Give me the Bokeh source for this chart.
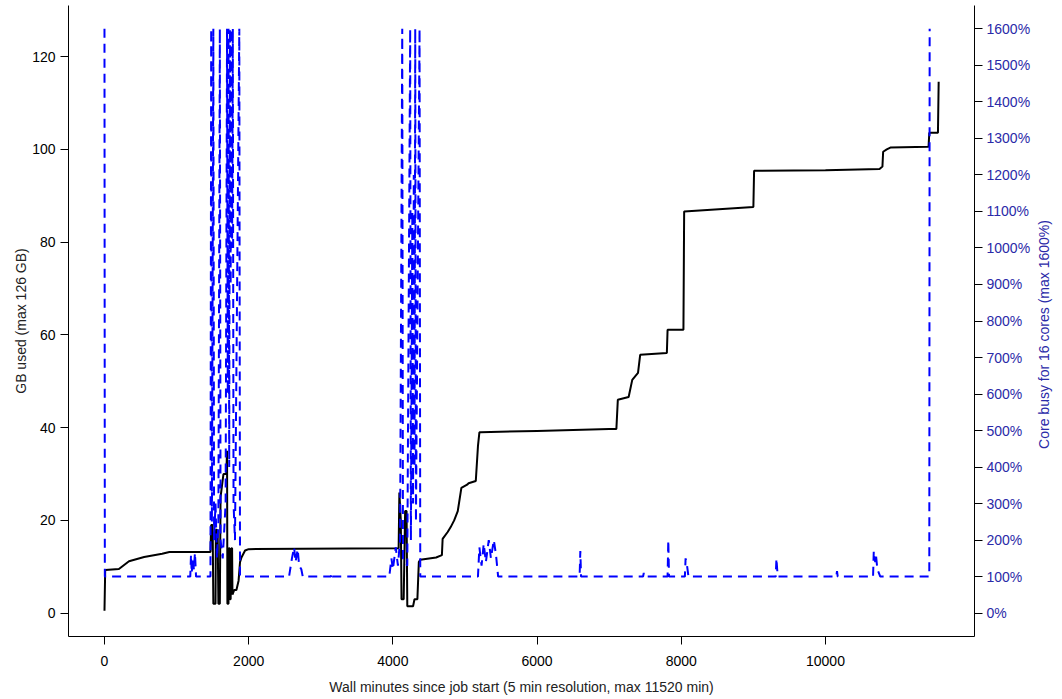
import math
from bokeh.plotting import figure
from bokeh.models import Range1d, LinearAxis, FixedTicker, CustomJSTickFormatter, Label
from bokeh.embed import file_html
from bokeh.resources import INLINE

# ---- data: memory used (GB) vs wall minutes ----
mem_min = [0, 10, 200, 340, 550, 800, 900, 1470, 1480, 1500, 1510, 1540, 1545, 1560, 1570,
           1580, 1600, 1610, 1650, 1690, 1700, 1705, 1720, 1725, 1735, 1740, 1750, 1760,
           1770, 1775, 1800, 1830, 1860, 1880, 1900, 1950, 2000, 4080, 4090, 4110, 4120,
           4150, 4170, 4190, 4200, 4210, 4280, 4300, 4340, 4360, 4380, 4600, 4680, 4690,
           4760, 4800, 4850, 4900, 4950, 5030, 5050, 5150, 5180, 5200, 5220, 6000, 7000,
           7100, 7120, 7270, 7320, 7400, 7430, 7800, 7810, 8030, 8040, 9000, 9010, 10000,
           10750, 10790, 10800, 10850, 10900, 11430, 11440, 11560, 11570]
mem_gb = [0.5, 9.3, 9.5, 11.2, 12.1, 12.8, 13.2, 13.2, 19, 19, 2, 2, 18, 18, 17,
          2, 2, 25, 30, 30, 35, 2, 2, 14, 14, 3, 3, 14,
          14, 4, 5, 5, 7, 11, 12, 13.5, 13.8, 14, 26, 20, 3,
          3, 22, 22, 1.5, 1.5, 1.5, 3, 3, 11, 11.5, 12, 12.5, 16,
          17.5, 18.5, 20, 22, 27, 27.7, 28, 28.5, 36, 39, 39, 39.3, 39.7,
          39.7, 46, 46.6, 50.3, 51.8, 55.7, 56.1, 61.1, 61.1, 86.6, 87.6, 95.4, 95.5,
          95.8, 96.3, 99.5, 100, 100.4, 100.6, 103.6, 103.6, 114.6]

# ---- data: CPU busy (%) vs wall minutes ----
cpu_min = [0, 5, 1190, 1200, 1210, 1225, 1240, 1255, 1270, 1470, 1480, 1490, 1510, 1520,
           1540, 1560, 1580, 1600, 1610, 1640, 1680, 1700, 1710, 1720, 1730, 1740, 1750,
           1760, 1770, 1780, 1790, 1810, 1870, 1880, 2560, 2600, 2630, 2650, 2680, 2700,
           2730, 2750, 3140, 3150, 3160, 3950, 3980, 4000, 4040, 4070, 4100, 4130, 4140,
           4200, 4240, 4250, 4270, 4280, 4290, 4300, 4310, 4320, 4370, 4380, 5180, 5200,
           5230, 5260, 5290, 5330, 5360, 5400, 5430, 5460, 6590, 6600, 6610, 7470, 7480,
           7490, 7810, 7820, 7830, 8050, 8060, 8080, 8100, 9310, 9320, 9330, 9340, 10150,
           10160, 10170, 10660, 10670, 10690, 10700, 10720, 10740, 10760, 11440, 11445]
cpu_pct = [1600, 100, 100, 160, 110, 150, 120, 165, 100, 100, 1600, 250, 1600, 200,
           300, 150, 250, 1600, 200, 150, 300, 1600, 600, 1600, 400, 1600, 900,
           1600, 1000, 1600, 300, 200, 1600, 100, 100, 150, 180, 140, 175, 130,
           120, 100, 100, 110, 100, 100, 150, 120, 180, 130, 200, 1600, 150,
           130, 1600, 200, 1100, 300, 1200, 400, 1600, 250, 1600, 100, 100, 180,
           130, 190, 140, 200, 150, 200, 160, 100, 100, 170, 100, 100, 110,
           100, 100, 200, 100, 100, 150, 130, 100, 100, 150, 120, 100, 100,
           115, 100, 100, 170, 140, 160, 120, 110, 100, 100, 1600]

x_ticks = [0, 2000, 4000, 6000, 8000, 10000]
gb_ticks = [0, 20, 40, 60, 80, 100, 120]
cpu_ticks = list(range(0, 1700, 100))

FONT = "Liberation Sans"
BLUE_TXT = "#2a2aa8"

p = figure(frame_width=906, frame_height=631, output_backend="svg", toolbar_location=None,
           x_range=Range1d(-499, 12067), y_range=Range1d(-5.04, 131.04),
           min_border_left=68, min_border_right=88, min_border_top=5, min_border_bottom=62)
p.extra_y_ranges = {"cpu": Range1d(-64, 1664)}
p.outline_line_color = None
p.xgrid.visible = False
p.ygrid.visible = False
p.background_fill_color = "white"

p.line(mem_min, mem_gb, line_color="black", line_width=2)
p.line(cpu_min, cpu_pct, line_color="#0000ff", line_width=2, line_dash="9 6",
       y_range_name="cpu")

for ax in (p.xaxis[0], p.yaxis[0]):
    ax.major_label_text_font = FONT
    ax.major_label_text_font_size = "14px"
    ax.major_label_text_color = "black"
    ax.axis_label_text_font = FONT
    ax.axis_label_text_font_size = "14px"
    ax.axis_label_text_font_style = "normal"
    ax.axis_label_text_color = "#222222"
    ax.minor_tick_line_color = None
    ax.major_tick_out = 8
    ax.major_tick_in = 0
    ax.axis_line_color = "black"
    ax.major_tick_line_color = "black"

p.xaxis[0].ticker = FixedTicker(ticks=x_ticks)
p.xaxis[0].axis_label = "Wall minutes since job start (5 min resolution, max 11520 min)"
p.xaxis[0].major_label_standoff = 11
p.xaxis[0].axis_label_standoff = 10
p.yaxis[0].ticker = FixedTicker(ticks=gb_ticks)
p.yaxis[0].axis_label = "GB used (max 126 GB)"
p.yaxis[0].major_label_orientation = "horizontal"
p.yaxis[0].axis_label_standoff = 0

right = LinearAxis(y_range_name="cpu", ticker=FixedTicker(ticks=cpu_ticks),
                   formatter=CustomJSTickFormatter(code="return tick + '%';"))
right.major_label_text_font = FONT
right.major_label_text_font_size = "14px"
right.major_label_text_color = BLUE_TXT
right.major_label_standoff = 4
right.minor_tick_line_color = None
right.major_tick_out = 8
right.major_tick_in = 0
p.add_layout(right, "right")

right_title = Label(x=10, y=302, x_units="screen", y_units="screen",
                    text="Core busy for 16 cores (max 1600%)", angle=math.pi / 2,
                    text_align="center", text_baseline="middle",
                    text_font=FONT, text_font_size="14px", text_color=BLUE_TXT)
p.add_layout(right_title, "right")

open("out.html", "w").write(file_html(p, INLINE))
